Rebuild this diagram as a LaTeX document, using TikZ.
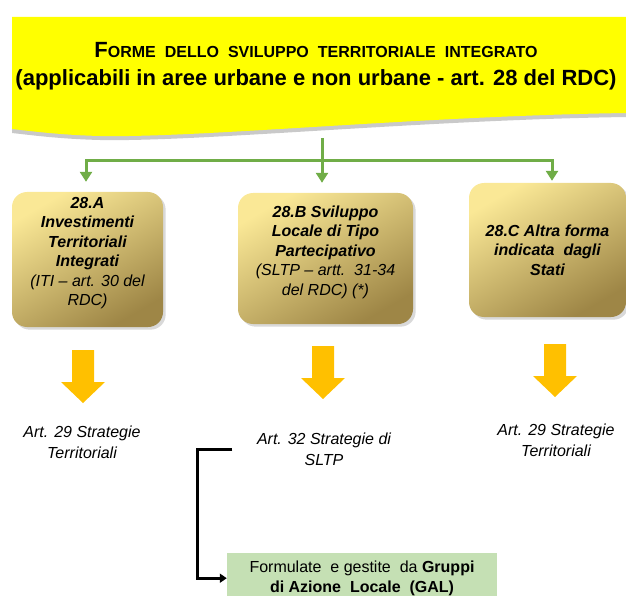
\documentclass[tikz,border=0pt]{standalone}
\usepackage{fontspec}
\setmainfont{Liberation Sans}
\usetikzlibrary{arrows.meta, positioning, shadows}

\definecolor{bannerYellow}{RGB}{255,255,0}
\definecolor{linkGreen}{RGB}{112,173,71}
\definecolor{goldLight}{RGB}{250,232,150}
\definecolor{goldDark}{RGB}{158,134,70}
\definecolor{arrowOrange}{RGB}{255,192,0}
\definecolor{galGreen}{RGB}{197,224,180}

\newcommand{\wsp}{\hspace{9pt}}

\begin{document}
\begin{tikzpicture}[x=1pt, y=-1pt,
    formbox/.style={rounded corners=15pt, top color=goldLight, bottom color=goldDark,
      shading angle=30, drop shadow={opacity=0.3}, align=center, inner sep=0pt,
      font=\fontsize{16}{19.5}\selectfont\itshape},
    link/.style={draw=linkGreen, line width=3pt, -{Triangle[width=12pt,length=10pt]}},
    strat/.style={align=center, font=\fontsize{16}{21}\selectfont\itshape},
    elbow/.style={line width=3pt, -{Triangle[width=9pt,length=7pt]}},
    blockarrow/.style={fill=arrowOrange}]
    \useasboundingbox (0,0) rectangle (626,596);

    % Yellow banner with its wavy lower edge and shadow
    \fill[gray!60, opacity=0.7] (12,20) -- (626,20) -- (626,117)
      .. controls (420,120) and (200,142) .. (100,140)
      .. controls (60,139) and (30,135) .. (12,133) -- cycle;
    \fill[bannerYellow] (12,17) -- (626,17) -- (626,113)
      .. controls (420,116) and (200,138) .. (100,136)
      .. controls (60,135) and (30,131) .. (12,129) -- cycle;
    \node[align=center, font=\fontsize{22}{28}\selectfont\bfseries] (title) at (316,66)
      {F{\fontsize{16}{28}\selectfont ORME\wsp DELLO\wsp SVILUPPO\wsp TERRITORIALE\wsp INTEGRATO}\\
       (applicabili in aree urbane e non urbane - art. 28 del RDC)};

    % The three forms
    \node[formbox, minimum width=151pt, minimum height=135pt] (boxA) at (87.5,259.5)
      {\textbf{28.A}\\ \textbf{Investimenti}\\ \textbf{Territoriali}\\ \textbf{Integrati}\\ (ITI -- art. 30 del\\ RDC)\\[-3pt] \mbox{}};
    \node[formbox, minimum width=175pt, minimum height=131pt] (boxB) at (325.5,258.5)
      {\textbf{28.B Sviluppo}\\ \textbf{Locale di Tipo}\\ \textbf{Partecipativo}\\ (SLTP -- artt.\ \ 31-34\\ del RDC) (*)\\[-3pt] \mbox{}};
    \node[formbox, minimum width=157pt, minimum height=134pt] (boxC) at (547.5,250)
      {\textbf{28.C Altra forma}\\ \textbf{indicata\ \ dagli}\\ \textbf{Stati}};

    % Green connectors from the banner
    \coordinate (bannerFoot) at (322,138);
    \coordinate (split) at (322,161);
    \draw[link, shorten >=10pt] (bannerFoot) -- (boxB.north -| bannerFoot);
    \draw[link, shorten >=10pt] (split) -| ([xshift=-1.5pt]boxA.north);
    \draw[link, shorten >=2pt] (split) -| ([xshift=4.5pt]boxC.north);

    % Orange block arrows
    \foreach \x/\t in {83/350, 323/346, 555/344}
      \fill[blockarrow] (\x-11,\t) -- (\x+11,\t) -- (\x+11,\t+32) -- (\x+22,\t+32)
        -- (\x,\t+53) -- (\x-22,\t+32) -- (\x-11,\t+32) -- cycle;

    % Strategies
    \node[strat] (stratA) at (82,442) {Art. 29 Strategie\\Territoriali};
    \node[strat] (stratB) at (324,449) {Art. 32 Strategie di\\SLTP};
    \node[strat] (stratC) at (556,440) {Art. 29 Strategie\\Territoriali};

    % Local action groups
    \node[fill=galGreen, minimum width=270pt, minimum height=50pt, align=center,
      font=\fontsize{16}{20}\selectfont, anchor=north] (gal) at (362,553)
      {Formulate\ \ e gestite\ \ da \textbf{Gruppi}\\ \textbf{di Azione\ \ Locale\ \ (GAL)}};
    \draw[elbow] ([xshift=-21pt]stratB.west) -- ++(-35,0) |- (gal.west);
\end{tikzpicture}
\end{document}
